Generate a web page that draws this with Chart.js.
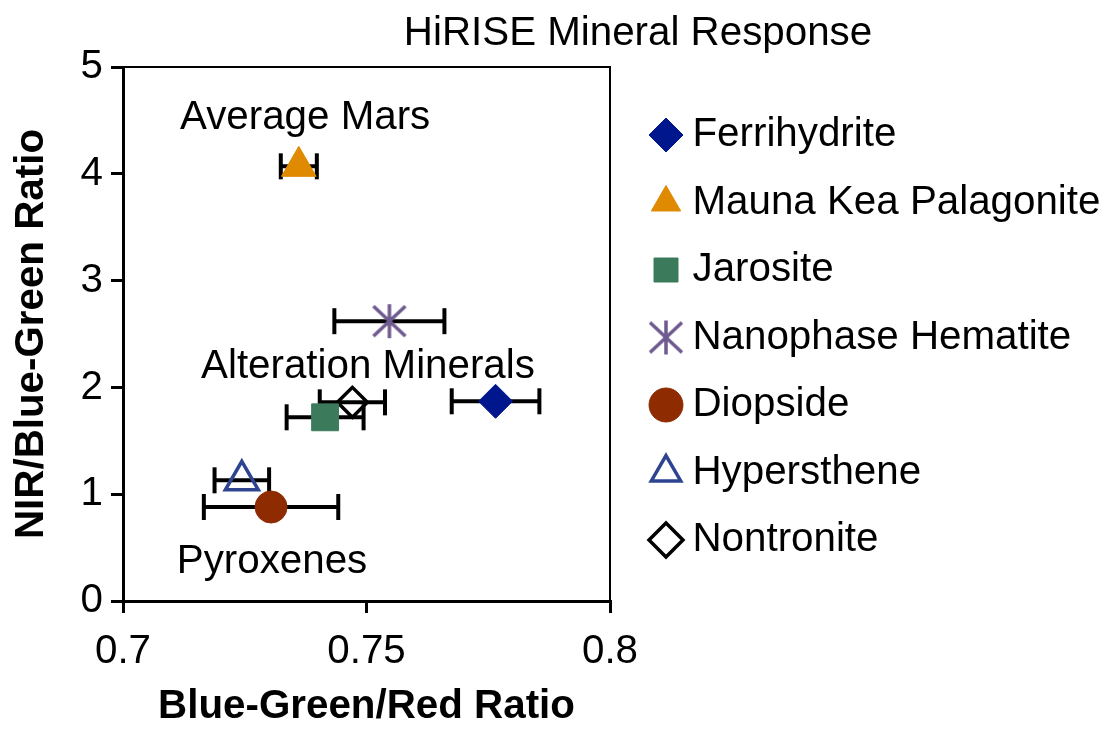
<!DOCTYPE html>
<html><head><meta charset="utf-8">
<script src="https://cdn.jsdelivr.net/npm/chart.js@4.4.1/dist/chart.umd.min.js"></script>
<style>html,body{margin:0;padding:0;background:#fff;}</style>
</head><body>
<canvas id="c" width="1112" height="732"></canvas>
<script>
// ---------- data ----------
const minerals = ['Ferrihydrite','Mauna Kea Palagonite','Jarosite','Nanophase Hematite','Diopside','Hypersthene','Nontronite'];
const blueGreenRed = [0.7765, 0.7361, 0.7415, 0.7547, 0.7304, 0.7244, 0.7471];
const nirBlueGreen = [1.87, 4.07, 1.72, 2.62, 0.88, 1.13, 1.86];
const blueGreenRedErr = [0.0090, 0.0037, 0.0079, 0.0113, 0.0138, 0.0056, 0.0067];
const xTicks = [0.7, 0.75, 0.8];
const yTicks = [0, 1, 2, 3, 4, 5];
const groupLabels = ['Average Mars', 'Alteration Minerals', 'Pyroxenes'];
const groupX = [0.7374, 0.7503, 0.7306];
const groupY = [4.52, 2.19, 0.37];
const chartTitle = 'HiRISE Mineral Response';
const xTitle = 'Blue-Green/Red Ratio';
const yTitle = 'NIR/Blue-Green Ratio';

// ---------- styles ----------
const colors = ['#00168c', '#df8a00', '#3b7b5c', '#6f5a8f', '#8e2b00', '#2e4491', '#000000'];
const filled = [true, true, true, true, true, false, false];
const radii = [17, 20, 19, 17, 16, 19, 15];

const FAMILY = "'Liberation Sans Narrow','Arial Narrow','Liberation Sans',Arial,sans-serif";
const mctx = document.createElement('canvas').getContext('2d');
function fit(text, width, weight) { mctx.font = weight + ' 100px ' + FAMILY; return 100 * width / mctx.measureText(text).width; }
const FS = fit('Mauna Kea Palagonite', 408, 'normal');
const FSB = fit(xTitle, 417, 'bold');

function asterisk(color) {
  const c = document.createElement('canvas'); c.width = 36; c.height = 36;
  const g = c.getContext('2d'); g.strokeStyle = color; g.lineWidth = 3.5; g.lineCap = 'butt';
  g.beginPath();
  g.moveTo(18, 1); g.lineTo(18, 35);
  g.moveTo(2, 3); g.lineTo(34, 33);
  g.moveTo(34, 3); g.lineTo(2, 33);
  g.stroke();
  return c;
}
const styles = ['rectRot', 'triangle', 'rect', asterisk(colors[3]), 'circle', 'triangle', 'rectRot'];

// ---------- layout numbers ----------
const AREA = {left: 123, top: 67, right: 610, bottom: 601};
const LPAD = 67.5 - FS;
const LBW = Math.max(1, 53 - FS);
const legendLeft = 666 - LBW / 2 - LPAD;
mctx.font = 'normal ' + FS + 'px ' + FAMILY;
const legendWidth = LPAD + LBW + FS / 2 + Math.max(...minerals.map(m => mctx.measureText(m).width));
const padRight = Math.max(0, 1112 - legendLeft - legendWidth);
const legendTitleH = 0.5 + FS / 2;

// ---------- datasets ----------
const datasets = [];
minerals.forEach((m, i) => {
  datasets.push({
    label: m, type: 'scatter', order: 0,
    data: [{x: blueGreenRed[i], y: nirBlueGreen[i]}],
    pointStyle: styles[i], pointRadius: radii[i], pointHoverRadius: radii[i],
    backgroundColor: filled[i] ? colors[i] : 'rgba(0,0,0,0)',
    borderColor: colors[i], pointBorderWidth: filled[i] ? 1 : 3.5, pointHoverBorderWidth: filled[i] ? 1 : 3.5
  });
});
minerals.forEach((m, i) => {
  datasets.push({
    label: m + ' error', type: 'scatter', order: 1, showLine: true,
    data: [{x: blueGreenRed[i] - blueGreenRedErr[i], y: nirBlueGreen[i]}, {x: blueGreenRed[i] + blueGreenRedErr[i], y: nirBlueGreen[i]}],
    borderColor: '#000', borderWidth: 4, backgroundColor: '#000',
    pointStyle: 'line', rotation: 90, pointRadius: 13, pointHoverRadius: 13,
    pointBorderColor: '#000', pointBorderWidth: 4
  });
});

const textPlugin = {
  id: 'texts',
  afterDraw(chart) {
    const {ctx, chartArea, scales} = chart;
    ctx.save();
    ctx.fillStyle = '#000';
    ctx.textAlign = 'center';
    ctx.textBaseline = 'middle';
    ctx.font = 'normal ' + FS + 'px ' + FAMILY;
    groupLabels.forEach((t, i) => {
      ctx.fillText(t, scales.x.getPixelForValue(groupX[i]), scales.y.getPixelForValue(groupY[i]));
    });
    ctx.fillText(chartTitle, chartArea.right + 28, chartArea.top - 33);
    ctx.restore();
  }
};

const axisCommon = {
  grid: {drawOnChartArea: false, drawTicks: true, tickLength: 12, lineWidth: 3, color: '#000'},
  border: {display: true, color: '#000', width: 3}
};

new Chart(document.getElementById('c'), {
  type: 'scatter',
  data: {datasets},
  plugins: [textPlugin],
  options: {
    responsive: false, animation: false,
    layout: {padding: {top: AREA.top, left: 0, right: padRight, bottom: 0}},
    plugins: {
      tooltip: {enabled: false},
      legend: {
        position: 'right', align: 'start', maxWidth: legendWidth,
        title: {display: true, text: '', font: {size: 1, lineHeight: 1}, padding: {top: legendTitleH - 1, bottom: 0}},
        labels: {
          usePointStyle: true, boxWidth: LBW, boxHeight: 24, padding: LPAD, color: '#000',
          font: {size: FS, family: FAMILY},
          generateLabels: () => minerals.map((m, i) => ({
            text: m, datasetIndex: i, hidden: false,
            fillStyle: filled[i] ? colors[i] : 'rgba(0,0,0,0)', strokeStyle: colors[i],
            lineWidth: filled[i] ? 1 : 3.5, pointStyle: styles[i], fontColor: '#000'
          }))
        }
      }
    },
    scales: {
      x: {
        type: 'linear', position: 'bottom', min: 0.7, max: 0.8,
        afterBuildTicks: s => { s.ticks = xTicks.map(v => ({value: v})); },
        afterFit: s => { s.height = 732 - AREA.bottom; },
        ticks: {font: {size: FS, family: FAMILY}, color: '#000', padding: 15, maxRotation: 0, callback: v => String(v)},
        title: {display: true, text: xTitle, color: '#000', font: {size: FSB, family: FAMILY, weight: 'bold', lineHeight: 1}, padding: {top: 0, bottom: 732 - 707 - FSB / 2}},
        ...axisCommon
      },
      y: {
        type: 'linear', position: 'left', min: 0, max: 5,
        afterBuildTicks: s => { s.ticks = yTicks.map(v => ({value: v})); },
        afterFit: s => { s.width = AREA.left; },
        ticks: {font: {size: FS, family: FAMILY}, color: '#000', padding: 8, callback: v => String(v)},
        title: {display: true, text: yTitle, color: '#000', font: {size: FSB, family: FAMILY, weight: 'bold', lineHeight: 1}, padding: {top: 32 - FSB / 2, bottom: 0}},
        ...axisCommon
      },
      x2: {
        type: 'linear', position: 'top', min: 0, max: 1,
        afterFit: s => { s.height = 0; },
        ticks: {display: false}, grid: {display: false},
        border: {display: true, color: '#000', width: 2}
      },
      y2: {
        type: 'linear', position: 'right', min: 0, max: 1,
        afterFit: s => { s.width = legendLeft - AREA.right; },
        ticks: {display: false}, grid: {display: false},
        border: {display: true, color: '#000', width: 2}
      }
    }
  }
});
</script>
</body></html>
